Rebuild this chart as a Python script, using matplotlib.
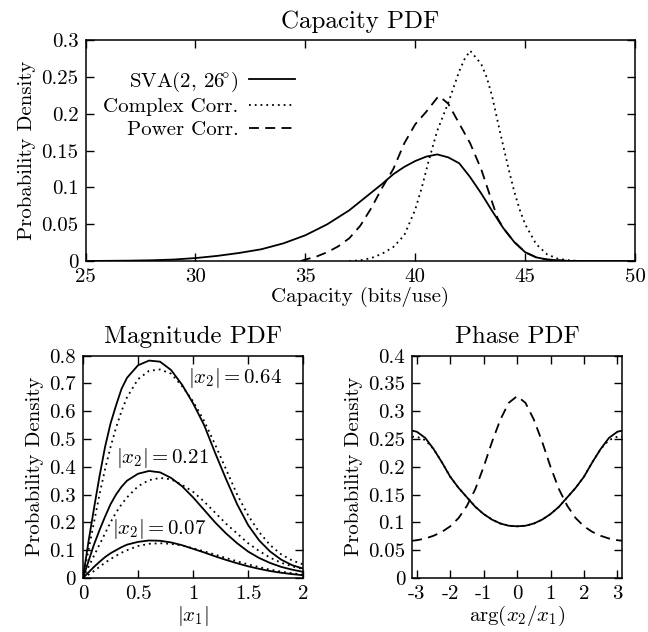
import numpy as np
import matplotlib
matplotlib.use('Agg')
import matplotlib.pyplot as plt
from matplotlib.ticker import FuncFormatter, MultipleLocator

plt.rcParams['font.family'] = ['cmr10', 'DejaVu Serif']
plt.rcParams['mathtext.fontset'] = 'cm'
plt.rcParams['axes.unicode_minus'] = False
plt.rcParams['axes.formatter.use_mathtext'] = True
plt.rcParams['font.size'] = 15

# ---- capacity pdf (top) ----
sva_x = [25, 27, 28, 29, 30, 31, 32, 33, 34, 35, 36, 37, 38, 38.5, 39, 39.5, 40, 40.5,
         41, 41.5, 42, 42.5, 43, 43.5, 44, 44.5, 45, 45.5, 46, 47, 50]
sva_y = [0, 0.0005, 0.001, 0.002, 0.004, 0.007, 0.011, 0.016, 0.024, 0.035, 0.05, 0.069,
         0.093, 0.105, 0.118, 0.128, 0.136, 0.142, 0.145, 0.141, 0.133, 0.114, 0.092,
         0.068, 0.045, 0.026, 0.012, 0.005, 0.002, 0, 0]

cplx_x = [37, 37.5, 38, 38.5, 39, 39.5, 40, 40.3, 40.6, 41, 41.5, 42, 42.25, 42.5, 42.75,
          43, 43.25, 43.5, 43.75, 44, 44.25, 44.5, 44.75, 45, 45.5, 46, 46.5, 47, 47.5]
cplx_y = [0, 0.001, 0.004, 0.01, 0.019, 0.035, 0.07, 0.1, 0.135, 0.177, 0.215, 0.258,
          0.275, 0.286, 0.277, 0.268, 0.25, 0.224, 0.19, 0.157, 0.125, 0.095, 0.07,
          0.05, 0.023, 0.009, 0.003, 0.001, 0]

pow_x = [34.8, 35, 35.5, 36, 36.5, 37, 37.5, 38, 38.5, 39, 39.5, 40, 40.5, 41, 41.1, 41.5,
         42, 42.5, 43, 43.5, 43.75, 44, 44.5, 45, 45.5, 46, 47]
pow_y = [0, 0.002, 0.006, 0.012, 0.02, 0.031, 0.048, 0.072, 0.1, 0.125, 0.16, 0.186,
         0.203, 0.222, 0.224, 0.214, 0.187, 0.16, 0.125, 0.08, 0.058, 0.045, 0.026,
         0.012, 0.005, 0.002, 0]

# ---- magnitude pdf (bottom left) ----
mag_x = [0, 0.05, 0.1, 0.15, 0.2, 0.25, 0.3, 0.35, 0.4, 0.5, 0.6, 0.7, 0.8, 0.9, 1.0,
         1.1, 1.2, 1.3, 1.4, 1.5, 1.6, 1.7, 1.8, 1.9, 2.0]
mag64_solid = [0, 0.13, 0.25, 0.365, 0.47, 0.555, 0.62, 0.68, 0.72, 0.765, 0.782, 0.778,
               0.748, 0.695, 0.628, 0.55, 0.45, 0.355, 0.265, 0.19, 0.135, 0.095, 0.066,
               0.046, 0.034]
mag64_dot = [0, 0.1, 0.2, 0.3, 0.39, 0.47, 0.54, 0.6, 0.65, 0.715, 0.745, 0.75,
             0.735, 0.69, 0.635, 0.565, 0.48, 0.39, 0.3, 0.225, 0.165, 0.118, 0.085,
             0.063, 0.049]
mag21_solid = [0, 0.06, 0.12, 0.172, 0.22, 0.265, 0.3, 0.328, 0.35, 0.375, 0.385, 0.38,
               0.36, 0.33, 0.29, 0.245, 0.2, 0.16, 0.125, 0.095, 0.072, 0.054, 0.04,
               0.03, 0.022]
mag21_dot = [0, 0.04, 0.08, 0.12, 0.16, 0.2, 0.235, 0.265, 0.29, 0.33, 0.352, 0.36,
             0.355, 0.335, 0.31, 0.275, 0.235, 0.195, 0.16, 0.125, 0.097, 0.073, 0.055,
             0.042, 0.032]
mag07_solid = [0, 0.02, 0.04, 0.058, 0.075, 0.089, 0.1, 0.111, 0.12, 0.13, 0.135, 0.134,
               0.128, 0.118, 0.105, 0.092, 0.078, 0.065, 0.053, 0.042, 0.033, 0.025,
               0.019, 0.014, 0.01]
mag07_dot = [0, 0.012, 0.025, 0.04, 0.055, 0.068, 0.08, 0.091, 0.1, 0.115, 0.123, 0.125,
             0.123, 0.117, 0.107, 0.096, 0.084, 0.072, 0.06, 0.049, 0.039, 0.03, 0.023,
             0.017, 0.012]

# ---- phase pdf (bottom right) ----
ph_x = [-3.1416, -3.0, -2.75, -2.5, -2.25, -2.0, -1.75, -1.5, -1.25, -1.0, -0.75, -0.5, -0.25,
        0, 0.25, 0.5, 0.75, 1.0, 1.25, 1.5, 1.75, 2.0, 2.25, 2.5, 2.75, 3.0, 3.1416]
ph_solid = [0.265, 0.263, 0.252, 0.232, 0.208, 0.182, 0.162, 0.145, 0.128, 0.115, 0.105,
            0.098, 0.094, 0.093, 0.094, 0.098, 0.105, 0.115, 0.128, 0.145, 0.162, 0.182,
            0.208, 0.232, 0.252, 0.263, 0.265]
ph_dot = [0.254, 0.254, 0.248, 0.232, 0.208, 0.182, 0.162, 0.145, 0.128, 0.115, 0.105,
          0.098, 0.094, 0.093, 0.094, 0.098, 0.105, 0.115, 0.128, 0.145, 0.162, 0.182,
          0.208, 0.232, 0.248, 0.254, 0.254]
ph_dash = [0.067, 0.068, 0.071, 0.076, 0.083, 0.093, 0.108, 0.13, 0.16, 0.2, 0.245,
           0.285, 0.315, 0.327, 0.315, 0.285, 0.245, 0.2, 0.16, 0.13, 0.108, 0.093,
           0.083, 0.076, 0.071, 0.068, 0.067]

DOT = (0, (1, 2.2))
DASH = (0, (5.5, 3.5))
LW = 1.3


def fmt(v, pos):
    return '%g' % round(v, 4)


def style(ax):
    ax.tick_params(direction='in', length=6, width=1, top=True, right=True, pad=5)
    for s in ax.spines.values():
        s.set_linewidth(1.1)
    ax.xaxis.set_major_formatter(FuncFormatter(fmt))
    ax.yaxis.set_major_formatter(FuncFormatter(fmt))


fig = plt.figure(figsize=(6.48, 6.32), dpi=100)

ax1 = fig.add_axes([0.132, 0.587, 0.848, 0.349])
ax1.plot(sva_x, sva_y, color='black', lw=LW, label=r'SVA(2, $26\!^{\circ}$)')
ax1.plot(cplx_x, cplx_y, color='black', lw=LW, ls=DOT, label='Complex Corr.')
ax1.plot(pow_x, pow_y, color='black', lw=LW, ls=DASH, label='Power Corr.')
ax1.set_xlim(25, 50)
ax1.set_ylim(0, 0.3)
ax1.xaxis.set_major_locator(MultipleLocator(5))
ax1.yaxis.set_major_locator(MultipleLocator(0.05))
ax1.set_title('Capacity PDF', pad=9)
ax1.set_xlabel('Capacity (bits/use)', labelpad=1)
ax1.set_ylabel('Probability Density')
ax1.legend(loc='upper right', bbox_to_anchor=(0.40, 0.915), frameon=False, markerfirst=False,
           handlelength=2.2, handletextpad=0.5, labelspacing=0.2, borderpad=0)
style(ax1)

ax2 = fig.add_axes([0.128, 0.0854, 0.340, 0.352])
ax2.plot(mag_x, mag64_solid, color='black', lw=LW)
ax2.plot(mag_x, mag64_dot, color='black', lw=LW, ls=DOT)
ax2.plot(mag_x, mag21_solid, color='black', lw=LW)
ax2.plot(mag_x, mag21_dot, color='black', lw=LW, ls=DOT)
ax2.plot(mag_x, mag07_solid, color='black', lw=LW)
ax2.plot(mag_x, mag07_dot, color='black', lw=LW, ls=DOT)
ax2.text(1.38, 0.72, r'$|x_2| = 0.64$', ha='center', va='center')
ax2.text(0.72, 0.43, r'$|x_2| = 0.21$', ha='center', va='center')
ax2.text(0.69, 0.177, r'$|x_2| = 0.07$', ha='center', va='center')
ax2.set_xlim(0, 2)
ax2.set_ylim(0, 0.8)
ax2.xaxis.set_major_locator(MultipleLocator(0.5))
ax2.yaxis.set_major_locator(MultipleLocator(0.1))
ax2.set_title('Magnitude PDF', pad=9)
ax2.set_xlabel(r'$|x_1|$', labelpad=1)
ax2.set_ylabel('Probability Density')
style(ax2)

ax3 = fig.add_axes([0.636, 0.0854, 0.324, 0.352])
ax3.plot(ph_x, ph_solid, color='black', lw=LW)
ax3.plot(ph_x, ph_dot, color='black', lw=LW, ls=DOT)
ax3.plot(ph_x, ph_dash, color='black', lw=LW, ls=DASH)
ax3.set_xlim(-np.pi, np.pi)
ax3.set_ylim(0, 0.4)
ax3.xaxis.set_major_locator(MultipleLocator(1))
ax3.yaxis.set_major_locator(MultipleLocator(0.05))
ax3.set_title('Phase PDF', pad=9)
ax3.set_xlabel(r'$\arg(x_2/x_1)$', labelpad=1)
ax3.set_ylabel('Probability Density')
style(ax3)

fig.savefig('out.png', dpi=100)
